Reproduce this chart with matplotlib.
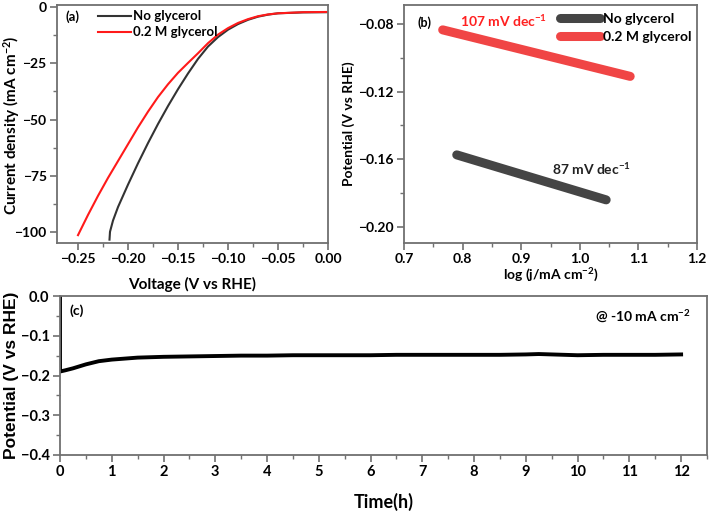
import matplotlib
matplotlib.use("Agg")
import matplotlib.pyplot as plt
from matplotlib.ticker import MultipleLocator, FuncFormatter

# ---------------- data ----------------
# (a) LSV curves
v_no = [0.0, -0.025, -0.05, -0.06, -0.07, -0.08, -0.09, -0.10, -0.11, -0.12, -0.13,
        -0.14, -0.15, -0.16, -0.17, -0.18, -0.19, -0.20, -0.21, -0.215, -0.218, -0.2185]
j_no = [-2.2, -2.3, -2.7, -3.3, -4.2, -5.6, -7.5, -10.0, -13.3, -17.5, -23.0,
        -29.5, -36.5, -44.0, -52.0, -60.5, -69.5, -79.0, -89.0, -95.0, -100.0, -103.5]
v_gly = [0.0, -0.025, -0.05, -0.06, -0.07, -0.08, -0.09, -0.10, -0.11, -0.12, -0.13,
         -0.14, -0.15, -0.16, -0.17, -0.18, -0.19, -0.20, -0.21, -0.22, -0.23, -0.24, -0.25]
j_gly = [-2.1, -2.2, -2.7, -3.2, -4.0, -5.3, -7.0, -9.3, -12.2, -16.0, -20.5,
         -24.8, -29.2, -34.3, -40.0, -46.5, -53.5, -61.0, -68.5, -76.0, -84.0, -92.5, -101.5]

# (b) Tafel lines
logj_no = [0.790, 1.045]
eta_no = [-0.1574, -0.1840]
logj_gly = [0.766, 1.086]
eta_gly = [-0.0835, -0.1110]
tafel_no = "87 mV dec$^{-1}$"
tafel_gly = "107 mV dec$^{-1}$"

# (c) chronopotentiometry
t_h = [0.0, 0.0, 0.1, 0.25, 0.5, 0.75, 1.0, 1.5, 2.0, 2.5, 3.0, 3.5, 4.0, 4.5, 5.0, 5.5, 6.0,
       6.5, 7.0, 7.5, 8.0, 8.5, 9.0, 9.25, 9.5, 10.0, 10.5, 11.0, 11.5, 12.0]
pot = [0.0, -0.190, -0.187, -0.182, -0.172, -0.164, -0.160, -0.155, -0.153, -0.152, -0.151,
       -0.150, -0.150, -0.149, -0.149, -0.149, -0.149, -0.148, -0.148, -0.148, -0.148,
       -0.148, -0.147, -0.146, -0.147, -0.149, -0.148, -0.148, -0.148, -0.147]

# ---------------- style ----------------
FONT = ["Lato", "DejaVu Sans"]
plt.rcParams["font.family"] = FONT
plt.rcParams["font.weight"] = "bold"
plt.rcParams["axes.labelweight"] = "bold"
plt.rcParams["mathtext.fontset"] = "custom"
plt.rcParams["mathtext.rm"] = "Lato:bold"
plt.rcParams["mathtext.bf"] = "Lato:bold"
plt.rcParams["mathtext.it"] = "Lato:bold"
plt.rcParams["mathtext.default"] = "bf"

W, H = 709, 512
fig = plt.figure(figsize=(W / 100, H / 100), dpi=100)

def px_axes(l, r, t, b):
    return fig.add_axes([l / W, 1 - b / H, (r - l) / W, (b - t) / H])

def fmt(spec):
    def f(v, pos):
        s = format(v, spec)
        if s.startswith("-") and float(s) == 0:
            s = s[1:]
        return s.replace("-", "\u2212")
    return FuncFormatter(f)

spine_col = "#707070"

def style(ax, fs=10):
    for s in ax.spines.values():
        s.set_color(spine_col)
        s.set_linewidth(1.3)
    ax.tick_params(which="both", direction="out", top=False, right=False,
                   color=spine_col, labelsize=fs, pad=2.5)
    ax.tick_params(which="major", length=5, width=1.2)
    ax.tick_params(which="minor", length=3, width=1.0)
    for lab in ax.get_xticklabels() + ax.get_yticklabels():
        lab.set_fontweight("bold")

def place_ylabel(ax, x, y=0.5):
    ax.yaxis.set_label_coords(x, y)
    ax.yaxis.label.set_verticalalignment("center")

# ---------------- (a) ----------------
axa = px_axes(57, 328, 5, 243)
axa.plot(v_no, j_no, color="#333333", lw=1.5, label="No glycerol")
axa.plot(v_gly, j_gly, color="#ff1a1a", lw=1.5, label="0.2 M glycerol")
axa.set_xlim(-0.271, 0.0)
axa.set_ylim(-105, 1.0)
axa.xaxis.set_major_locator(MultipleLocator(0.05))
axa.xaxis.set_minor_locator(MultipleLocator(0.025))
axa.xaxis.set_major_formatter(fmt(".2f"))
axa.yaxis.set_major_locator(MultipleLocator(25))
axa.yaxis.set_minor_locator(MultipleLocator(12.5))
axa.yaxis.set_major_formatter(fmt(".0f"))
style(axa, 10)
axa.set_xlabel("Voltage (V vs RHE)", fontsize=11, fontweight="bold", labelpad=8)
axa.set_ylabel("Current density (mA cm$^{-2}$)", fontsize=11, fontweight="bold")
place_ylabel(axa, -0.168, 0.496)
axa.text(0.03, 0.95, "(a)", transform=axa.transAxes, fontsize=9.5, fontweight="bold", va="center")
axa.legend(loc="upper left", bbox_to_anchor=(0.133, 1.0), frameon=False,
           handlelength=2.5, handletextpad=0.1, labelspacing=0.3, borderaxespad=0.0,
           prop={"weight": "bold", "size": 9.5, "family": FONT})

# ---------------- (b) ----------------
axb = px_axes(404, 697, 5, 243)
axb.plot(logj_no, eta_no, color="#454545", lw=6.5, solid_capstyle="round", label="No glycerol")
axb.plot(logj_gly, eta_gly, color="#f04545", lw=6.5, solid_capstyle="round", label="0.2 M glycerol")
axb.set_xlim(0.7, 1.2)
axb.set_ylim(-0.2095, -0.0688)
axb.xaxis.set_major_locator(MultipleLocator(0.1))
axb.xaxis.set_minor_locator(MultipleLocator(0.05))
axb.xaxis.set_major_formatter(fmt(".1f"))
axb.yaxis.set_major_locator(MultipleLocator(0.04))
axb.yaxis.set_minor_locator(MultipleLocator(0.02))
axb.yaxis.set_major_formatter(fmt(".2f"))
style(axb, 10)
axb.set_xlabel("log (j/mA cm$^{-2}$)", fontsize=10, fontweight="bold", labelpad=1)
axb.set_ylabel("Potential (V vs RHE)", fontsize=10, fontweight="bold")
place_ylabel(axb, -0.188, 0.5)
axb.text(0.045, 0.924, "(b)", transform=axb.transAxes, fontsize=9, fontweight="bold", va="center")
axb.text(0.795, -0.0785, tafel_gly, color="#ff2020", fontsize=10, fontweight="bold",
         ha="left", va="center")
axb.text(0.953, -0.166, tafel_no, color="#222222", fontsize=10, fontweight="bold",
         ha="left", va="center")
axb.legend(loc="upper right", bbox_to_anchor=(1.0, 0.99), frameon=False,
           handlelength=2.9, handletextpad=0.2, labelspacing=0.45, borderaxespad=0.0,
           prop={"weight": "bold", "size": 10, "family": FONT})

# ---------------- (c) ----------------
axc = px_axes(60, 707, 296, 455)
axc.plot(t_h, pot, color="black", lw=2.8)
axc.set_xlim(0, 12.5)
axc.set_ylim(-0.4, 0.0)
axc.xaxis.set_major_locator(MultipleLocator(1))
axc.xaxis.set_minor_locator(MultipleLocator(0.5))
axc.xaxis.set_major_formatter(fmt(".0f"))
axc.yaxis.set_major_locator(MultipleLocator(0.1))
axc.yaxis.set_minor_locator(MultipleLocator(0.05))
axc.yaxis.set_major_formatter(fmt(".1f"))
style(axc, 10.5)
axc.set_xlabel("Time(h)", fontsize=13, fontweight="bold", labelpad=10)
axc.set_ylabel("Potential (V vs RHE)", fontsize=12.5, fontweight="bold",
               family=["Liberation Sans", "DejaVu Sans"])
place_ylabel(axc, -0.075, 0.5)
axc.text(0.015, 0.91, "(c)", transform=axc.transAxes, fontsize=10, fontweight="bold", va="center")
axc.text(0.975, 0.87, "@ -10 mA cm$^{-2}$", transform=axc.transAxes, fontsize=10,
         fontweight="bold", va="center", ha="right")

fig.savefig("out.png", dpi=100)
